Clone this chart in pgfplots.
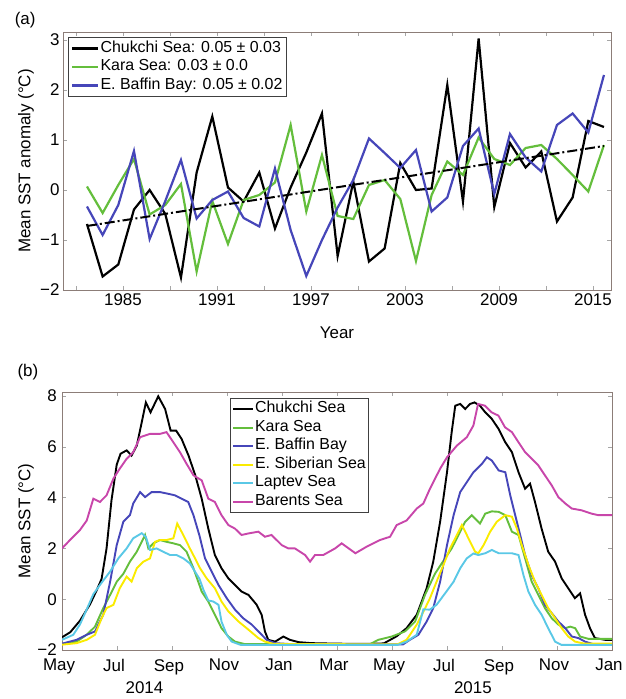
\documentclass[border=0pt]{standalone}
\usepackage{fontspec}
\setmainfont{Liberation Sans}
\usepackage{pgfplots}
\pgfplotsset{compat=1.18}
\definecolor{cKara}{RGB}{100,190,60}
\definecolor{cBaffin}{RGB}{70,70,185}
\definecolor{cSib}{RGB}{250,235,0}
\definecolor{cLap}{RGB}{90,200,230}
\definecolor{cBar}{RGB}{200,70,170}
\definecolor{frame}{RGB}{140,125,120}
\pgfplotsset{
  common/.style={
    scale only axis,
    anchor=south west,
    clip mode=individual,
    tick align=inside,
    major tick length=4bp,
    tick style={color=black!35, line width=0.6bp},
    axis line style={color=frame, line width=0.9bp},
    ticklabel style={font=\fontsize{17}{20}\selectfont},
    legend cell align=left,
  }
}
\begin{document}
\begin{tikzpicture}
\path[use as bounding box] (0,0) rectangle (626bp,699bp);
% ---------------- panel (a)
\begin{axis}[common,
  at={(63bp,409bp)},
  width=548bp, height=258bp,
  xmin=1981.17, xmax=2016.15, ymin=-2, ymax=3.16,
  xtick={1982,1985,...,2015},
  xticklabels={,1985,,1991,,1997,,2003,,2009,,2015},
  ytick={-2,-1,0,1,2,3},
  yticklabels={−2,−1,0,1,2,3},
  xlabel={Year},
  ylabel={Mean SST anomaly (°C)},
  every axis x label/.style={at={(axis description cs:0.5,-0.167)}, anchor=center, font=\fontsize{17}{20}\selectfont},
  every axis y label/.style={at={(axis description cs:-0.0675,0.5)}, rotate=90, anchor=center, font=\fontsize{17}{20}\selectfont},
  legend style={at={(axis description cs:0.009,0.981)}, anchor=north west,
    draw=black!75, line width=0.8bp, font=\fontsize{16}{18}\selectfont,
    inner xsep=3bp, inner ysep=2bp, row sep=0bp,
    nodes={inner sep=1bp, text height=12bp, text depth=4.5bp}},
  legend image code/.code={\draw[#1] (0bp,0bp) -- (26bp,0bp);},
]
\addplot[black, line width=2.2bp] coordinates {
(1982.7,-0.68)(1983.7,-1.73)(1984.7,-1.49)(1985.7,-0.39)(1986.7,0.0)(1987.7,-0.48)(1988.7,-1.75)(1989.7,0.35)(1990.7,1.47)(1991.7,0.05)(1992.7,-0.23)(1993.7,0.35)(1994.7,-0.77)(1995.7,0.05)(1996.7,0.75)(1997.7,1.53)(1998.7,-1.32)(1999.7,0.17)(2000.7,-1.43)(2001.7,-1.17)(2002.7,0.54)(2003.7,0.0)(2004.7,0.03)(2005.7,2.1)(2006.7,-0.23)(2007.7,3.03)(2008.7,-0.34)(2009.7,0.94)(2010.7,0.45)(2011.7,0.77)(2012.7,-0.63)(2013.7,-0.15)(2014.7,1.38)(2015.7,1.26)};
\addlegendentry{Chukchi Sea: 0.05 ± 0.03}
\addplot[cKara, line width=2.2bp] coordinates {
(1982.7,0.07)(1983.7,-0.46)(1984.7,0.1)(1985.7,0.62)(1986.7,-0.49)(1987.7,-0.3)(1988.7,0.12)(1989.7,-1.63)(1990.7,-0.22)(1991.7,-1.08)(1992.7,-0.2)(1993.7,-0.1)(1994.7,0.15)(1995.7,1.3)(1996.7,-0.43)(1997.7,0.7)(1998.7,-0.52)(1999.7,-0.58)(2000.7,0.1)(2001.7,0.2)(2002.7,-0.18)(2003.7,-1.42)(2004.7,-0.1)(2005.7,0.57)(2006.7,0.3)(2007.7,1.05)(2008.7,0.62)(2009.7,0.5)(2010.7,0.84)(2011.7,0.9)(2012.7,0.62)(2013.7,0.3)(2014.7,-0.03)(2015.7,0.9)};
\addlegendentry{Kara Sea: 0.03 ± 0.0}
\addplot[cBaffin, line width=2.2bp] coordinates {
(1982.7,-0.33)(1983.7,-0.9)(1984.7,-0.3)(1985.7,0.78)(1986.7,-0.98)(1987.7,-0.22)(1988.7,0.6)(1989.7,-0.57)(1990.7,-0.2)(1991.7,-0.03)(1992.7,-0.56)(1993.7,-0.73)(1994.7,0.43)(1995.7,-0.8)(1996.7,-1.72)(1997.7,-1.0)(1998.7,-0.35)(1999.7,0.2)(2000.7,1.03)(2001.7,0.74)(2002.7,0.44)(2003.7,0.8)(2004.7,-0.43)(2005.7,-0.15)(2006.7,0.88)(2007.7,1.23)(2008.7,-0.08)(2009.7,1.12)(2010.7,0.65)(2011.7,0.37)(2012.7,1.3)(2013.7,1.53)(2014.7,1.15)(2015.7,2.3)};
\addlegendentry{E. Baffin Bay: 0.05 ± 0.02}
\addplot[black, line width=2bp, dash pattern=on 10bp off 3bp on 2bp off 3bp, forget plot] coordinates {(1982.7,-0.72)(2015.7,0.88)};
\node[font=\fontsize{17}{20}\selectfont] at (axis description cs:-0.069,1.047) {(a)};
\end{axis}
% ---------------- panel (b)
\begin{axis}[common,
  at={(62bp,49bp)},
  width=550bp, height=258bp,
  xmin=0, xmax=20, ymin=-2, ymax=8.16,
  xtick={0,2,...,20},
  xticklabels={May,Jul,Sep,Nov,Jan,Mar,May,Jul,Sep,Nov,Jan},
  xticklabel style={inner sep=1bp, xshift=-3bp, yshift=-8bp},
  yticklabel style={inner sep=1bp, xshift=-4bp},
  ytick={-2,0,2,4,6,8},
  yticklabels={−2,0,2,4,6,8},
  ylabel={Mean SST (°C)},
  every axis y label/.style={at={(axis description cs:-0.0655,0.5)}, rotate=90, anchor=center, font=\fontsize{17}{20}\selectfont},
  legend style={at={(axis description cs:0.305,0.977)}, anchor=north west,
    draw=black!75, line width=0.8bp, font=\fontsize{16}{18}\selectfont,
    inner xsep=2bp, inner ysep=1.5bp, row sep=0bp,
    nodes={inner sep=1bp, text height=12bp, text depth=4.5bp}},
  legend image code/.code={\draw[#1] (0bp,0bp) -- (20bp,0bp);},
]
\addplot[black, line width=1.9bp] coordinates {
(0,-1.5)(0.3,-1.3)(0.65,-0.85)(1.02,-0.2)(1.26,0.35)(1.44,0.8)(1.62,2.0)(1.8,3.9)(1.99,5.3)(2.13,5.73)(2.35,5.86)(2.53,5.66)(2.72,6.05)(2.9,6.97)(3.05,7.75)(3.22,7.36)(3.5,7.99)(3.75,7.49)(3.95,6.64)(4.15,6.64)(4.35,6.31)(4.6,5.66)(4.84,4.9)(5.08,3.96)(5.32,2.78)(5.56,1.74)(5.8,1.22)(6.05,0.82)(6.29,0.56)(6.53,0.3)(6.78,0.17)(7.08,-0.22)(7.26,-0.61)(7.38,-1.27)(7.5,-1.6)(7.75,-1.67)(8.05,-1.47)(8.29,-1.6)(8.6,-1.69)(9.08,-1.73)(10,-1.75)(11,-1.76)(11.7,-1.74)(12.17,-1.46)(12.53,-1.14)(12.9,-0.61)(13.26,0.43)(13.5,1.48)(13.75,3.05)(14.0,5.0)(14.17,6.58)(14.3,7.62)(14.48,7.69)(14.66,7.49)(14.84,7.69)(15.0,7.75)(15.2,7.62)(15.39,7.36)(15.63,7.1)(15.88,6.7)(16.12,6.18)(16.36,5.79)(16.6,5.0)(16.84,4.35)(17.02,4.55)(17.2,3.83)(17.44,2.78)(17.68,1.87)(17.93,1.48)(18.17,0.82)(18.41,0.43)(18.65,0.04)(18.84,0.23)(19.02,-0.61)(19.2,-1.14)(19.38,-1.53)(19.75,-1.6)(20,-1.6)};
\addlegendentry{Chukchi Sea}
\addplot[cKara, line width=1.9bp] coordinates {
(0,-1.77)(0.53,-1.67)(0.9,-1.4)(1.2,-1.08)(1.5,-0.35)(1.75,0.17)(1.99,0.69)(2.23,1.0)(2.47,1.48)(2.72,1.87)(2.9,2.26)(3.02,2.53)(3.14,2.0)(3.32,2.2)(3.56,2.33)(3.8,2.26)(4.05,2.2)(4.29,2.13)(4.53,1.87)(4.78,1.22)(5.0,0.55)(5.08,0.3)(5.32,-0.09)(5.56,-0.61)(5.8,-1.14)(6.05,-1.47)(6.29,-1.67)(6.66,-1.77)(11.2,-1.77)(11.5,-1.6)(11.99,-1.47)(12.47,-1.27)(12.84,-0.88)(13.2,0.17)(13.56,1.0)(13.93,1.61)(14.17,2.0)(14.42,2.53)(14.66,3.05)(14.9,3.31)(15.2,2.98)(15.39,3.37)(15.63,3.46)(15.88,3.44)(16.12,3.31)(16.36,2.66)(16.6,2.53)(16.84,1.61)(17.08,0.69)(17.32,0.17)(17.56,-0.35)(17.81,-0.75)(18.05,-1.0)(18.3,-1.14)(18.48,-1.08)(18.66,-1.14)(18.84,-1.47)(19.14,-1.56)(20,-1.56)};
\addlegendentry{Kara Sea}
\addplot[cBaffin, line width=1.9bp] coordinates {
(0,-1.75)(0.53,-1.6)(0.9,-1.4)(1.2,-1.27)(1.5,-0.61)(1.75,0.69)(1.99,2.13)(2.23,3.05)(2.47,3.31)(2.59,3.77)(2.84,4.22)(3.02,4.02)(3.26,4.22)(3.56,4.22)(3.87,4.15)(4.11,4.09)(4.35,3.96)(4.59,3.83)(4.78,3.31)(5.0,2.5)(5.2,1.61)(5.44,1.09)(5.69,0.56)(5.99,0.04)(6.29,-0.41)(6.59,-0.75)(6.9,-1.0)(7.2,-1.33)(7.44,-1.6)(7.75,-1.73)(8.5,-1.78)(12.4,-1.78)(12.65,-1.6)(12.96,-1.4)(13.26,-0.88)(13.5,-0.35)(13.75,0.69)(14.0,2.13)(14.24,3.31)(14.48,4.22)(14.72,4.61)(14.96,5.0)(15.27,5.33)(15.45,5.59)(15.63,5.46)(15.88,5.07)(16.12,5.0)(16.3,4.09)(16.48,3.31)(16.66,2.53)(16.84,1.74)(17.08,0.95)(17.32,0.43)(17.56,-0.22)(17.81,-0.55)(18.05,-0.88)(18.3,-1.14)(18.54,-1.47)(18.78,-1.53)(19.02,-1.67)(19.38,-1.79)(20,-1.8)};
\addlegendentry{E. Baffin Bay}
\addplot[cSib, line width=1.9bp] coordinates {
(0,-1.79)(0.53,-1.73)(0.9,-1.6)(1.2,-1.4)(1.44,-0.75)(1.62,-0.35)(1.87,-0.22)(2.1,0.43)(2.35,0.89)(2.53,0.69)(2.72,1.22)(2.96,1.48)(3.2,1.61)(3.38,2.26)(3.56,2.33)(3.8,2.33)(4.05,2.4)(4.19,2.98)(4.41,2.53)(4.65,2.0)(4.9,1.48)(5.02,1.22)(5.26,0.82)(5.56,0.43)(5.8,-0.09)(6.05,-0.48)(6.42,-0.88)(6.78,-1.2)(7.14,-1.53)(7.38,-1.67)(7.7,-1.76)(12.2,-1.78)(12.53,-1.6)(12.9,-1.0)(13.14,-0.5)(13.38,0.04)(13.62,0.69)(13.87,1.35)(14.11,2.0)(14.36,2.53)(14.54,2.92)(14.72,2.53)(14.84,2.26)(15.02,1.87)(15.14,1.81)(15.33,2.13)(15.57,2.66)(15.81,3.05)(16.12,3.31)(16.36,3.25)(16.54,2.79)(16.72,2.13)(16.96,1.35)(17.2,0.69)(17.44,0.17)(17.68,-0.35)(17.93,-0.75)(18.17,-1.14)(18.41,-1.47)(18.66,-1.67)(19.0,-1.75)(20,-1.75)};
\addlegendentry{E. Siberian Sea}
\addplot[cLap, line width=1.9bp] coordinates {
(0,-1.6)(0.41,-1.4)(0.65,-1.0)(0.9,-0.4)(1.14,0.2)(1.44,0.65)(1.75,1.09)(2.05,1.61)(2.35,2.0)(2.59,2.4)(2.9,2.6)(3.05,2.45)(3.2,1.94)(3.44,2.0)(3.68,1.87)(3.93,1.74)(4.17,1.74)(4.41,1.61)(4.65,1.41)(5.0,0.8)(5.15,0.35)(5.32,-0.05)(5.5,-0.09)(5.69,-0.22)(5.8,-0.88)(5.99,-1.4)(6.17,-1.67)(6.5,-1.8)(12.2,-1.8)(12.53,-1.67)(12.9,-1.4)(13.14,-0.4)(13.38,-0.41)(13.62,-0.22)(13.93,0.23)(14.24,0.69)(14.48,1.22)(14.72,1.61)(14.96,1.8)(15.14,1.74)(15.39,1.81)(15.63,1.94)(15.88,1.81)(16.12,1.81)(16.36,1.81)(16.6,1.74)(16.78,0.95)(16.96,0.3)(17.2,-0.22)(17.44,-0.61)(17.68,-1.14)(17.93,-1.67)(18.17,-1.8)(20,-1.8)};
\addlegendentry{Laptev Sea}
\addplot[cBar, line width=1.9bp] coordinates {
(0,2.0)(0.29,2.33)(0.65,2.72)(0.9,3.1)(1.14,3.96)(1.38,3.83)(1.62,4.09)(1.87,4.75)(2.1,5.14)(2.35,5.53)(2.59,5.79)(2.84,6.38)(3.2,6.51)(3.56,6.51)(3.8,6.58)(4.05,6.18)(4.29,5.79)(4.53,5.33)(4.78,4.88)(5.08,4.68)(5.32,3.96)(5.56,3.83)(5.8,3.31)(6.05,2.92)(6.29,2.78)(6.53,2.53)(6.78,2.59)(7.14,2.66)(7.38,2.46)(7.62,2.53)(7.99,2.13)(8.23,2.0)(8.47,2.0)(8.84,1.74)(9.02,1.48)(9.2,1.74)(9.5,1.74)(9.93,2.0)(10.17,2.2)(10.67,1.81)(11.08,2.07)(11.56,2.33)(11.93,2.46)(12.17,2.92)(12.53,3.1)(12.9,3.57)(13.14,3.77)(13.38,4.35)(13.75,5.14)(14.0,5.59)(14.36,6.05)(14.72,6.38)(14.96,6.84)(15.13,7.69)(15.38,7.62)(15.62,7.36)(15.87,7.23)(16.11,6.77)(16.36,6.58)(16.6,6.18)(16.84,5.79)(17.08,5.53)(17.32,5.27)(17.56,4.88)(17.81,4.48)(18.05,4.02)(18.3,3.77)(18.54,3.57)(18.9,3.5)(19.26,3.37)(19.5,3.31)(20,3.31)};
\addlegendentry{Barents Sea}
\node[font=\fontsize{17}{20}\selectfont] at (axis description cs:-0.062,1.078) {(b)};
\node[font=\fontsize{17}{20}\selectfont] at (axis description cs:0.15,-0.147) {2014};
\node[font=\fontsize{17}{20}\selectfont] at (axis description cs:0.747,-0.147) {2015};
\end{axis}
\end{tikzpicture}
\end{document}
